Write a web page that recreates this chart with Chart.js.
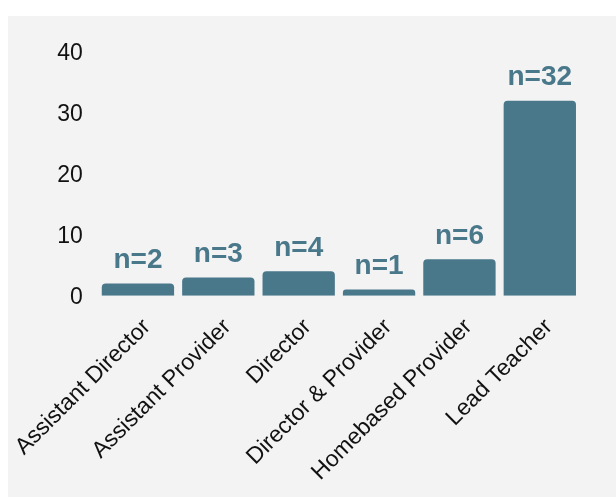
<!DOCTYPE html>
<html>
<head>
<meta charset="utf-8">
<script src="https://cdn.jsdelivr.net/npm/chart.js@4/dist/chart.umd.min.js"></script>
<style>
  html, body { margin: 0; padding: 0; background: #ffffff; }
  #panel { position: absolute; left: 8px; top: 16px; width: 608px; height: 481px; background: #f3f3f3; }
  #c { display: block; }
</style>
</head>
<body>
<div id="panel"><canvas id="c" width="608" height="481"></canvas></div>
<script>
const categories = ["Assistant Director", "Assistant Provider", "Director", "Director & Provider", "Homebased Provider", "Lead Teacher"];
const counts = [2, 3, 4, 1, 6, 32];
const countLabels = counts.map(v => "n=" + v);
const yTicks = [0, 10, 20, 30, 40];

const barColor = "#4a788b";
const fontFamily = "'Liberation Sans', Arial, sans-serif";

const valueLabelPlugin = {
  id: "valueLabels",
  afterDatasetsDraw(chart) {
    const ctx = chart.ctx;
    const meta = chart.getDatasetMeta(0);
    ctx.save();
    ctx.fillStyle = barColor;
    ctx.font = "bold 28px " + fontFamily;
    ctx.textAlign = "center";
    ctx.textBaseline = "middle";
    meta.data.forEach((bar, i) => {
      ctx.fillText(countLabels[i], bar.x, bar.y - 23);
    });
    ctx.restore();
  }
};

new Chart(document.getElementById("c"), {
  type: "bar",
  data: {
    labels: categories,
    datasets: [{
      data: counts,
      backgroundColor: barColor,
      borderRadius: { topLeft: 4, topRight: 4, bottomLeft: 0, bottomRight: 0 },
      borderSkipped: "start",
      barPercentage: 0.9,
      categoryPercentage: 1.0
    }]
  },
  options: {
    responsive: false,
    animation: false,
    events: [],
    layout: { padding: { left: 0, right: 36, top: 36, bottom: 0 } },
    plugins: { legend: { display: false }, tooltip: { enabled: false } },
    scales: {
      x: {
        grid: { display: false, drawTicks: false },
        border: { display: false },
        ticks: {
          color: "#111111",
          font: { family: fontFamily, size: 23 },
          minRotation: 45,
          maxRotation: 45,
          padding: 18,
          labelOffset: 9,
          autoSkip: false
        },
        afterFit(scale) {
          scale.height = 201.3;
          scale.paddingLeft = 0;
          scale.paddingRight = 0;
        }
      },
      y: {
        min: 0,
        max: 40,
        grid: { display: false, drawTicks: false },
        border: { display: false },
        afterBuildTicks(scale) { scale.ticks = yTicks.map(v => ({ value: v })); },
        ticks: {
          color: "#111111",
          font: { family: fontFamily, size: 23 },
          padding: 15,
          labelOffset: 2
        },
        afterFit(scale) {
          scale.width = 89.75;
          scale.paddingTop = 0;
          scale.paddingBottom = 0;
        }
      }
    }
  },
  plugins: [valueLabelPlugin]
});
</script>
</body>
</html>
